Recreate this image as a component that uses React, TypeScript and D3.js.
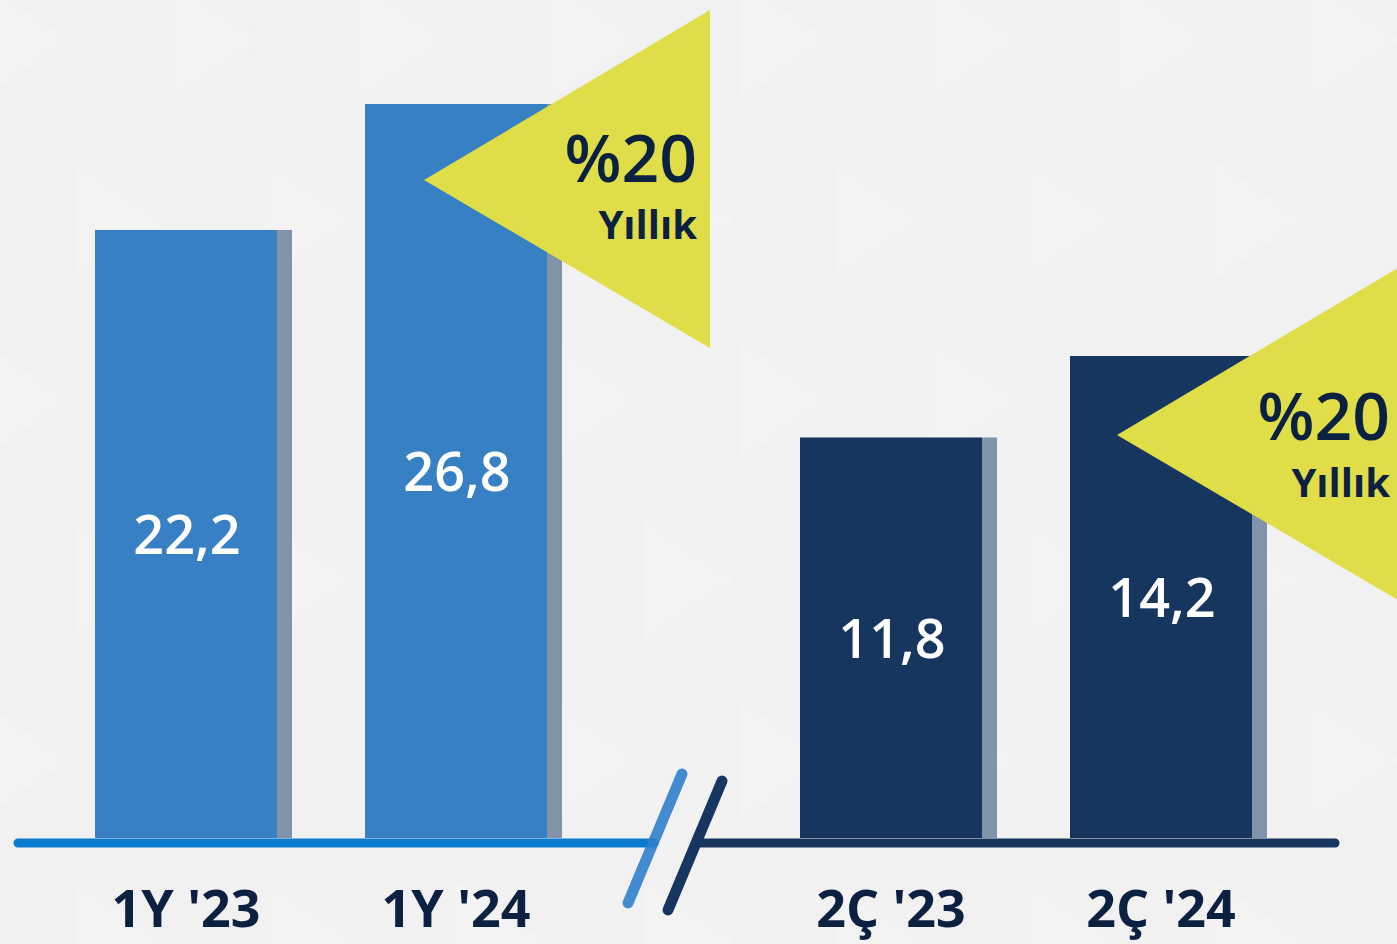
import React from "react";
import * as d3 from "d3";

const leftCategories = ["1Y '23", "1Y '24"];
const leftValues = [22.2, 26.8];
const leftLabels = ["22,2", "26,8"];
const rightCategories = ["2Ç '23", "2Ç '24"];
const rightValues = [11.8, 14.2];
const rightLabels = ["11,8", "14,2"];
const growthLabels = ["%20", "%20"];
const growthSub = "Yıllık";

const W = 1397;
const H = 944;
const BASE = 838;
const FONT = "'Open Sans', 'Noto Sans', sans-serif";
const NAVY_TEXT = "#0c2142";

export default function App() {
  const xLeft = d3.scaleBand().domain(leftCategories).range([95, 547]).paddingInner(88 / 270).paddingOuter(0);
  const xRight = d3.scaleBand().domain(rightCategories).range([800, 1252]).paddingInner(88 / 270).paddingOuter(0);
  const yLeft = d3.scaleLinear().domain([0, 26.8]).range([BASE, 104]);
  const yRight = d3.scaleLinear().domain([0, 14.2]).range([BASE, 356]);

  const panels = [
    { cats: leftCategories, vals: leftValues, labels: leftLabels, x: xLeft, y: yLeft, color: "#3880c4" },
    { cats: rightCategories, vals: rightValues, labels: rightLabels, x: xRight, y: yRight, color: "#17365f" },
  ];

  const tri = (px: number, py: number) => {
    const p = d3.path();
    p.moveTo(px, py);
    p.lineTo(px + 286, py - 170);
    p.lineTo(px + 286, py + 168);
    p.closePath();
    return p.toString();
  };

  const bgTris: JSX.Element[] = [];
  for (let i = 0; i < 8; i++) {
    for (let j = 0; j < 6; j++) {
      const cx = i * 190 - 20 + (j % 2) * 95;
      const cy = j * 180 - 20;
      bgTris.push(
        <path key={`${i}-${j}`} d={`M${cx},${cy} L${cx + 90},${cy + 60} L${cx},${cy + 120} Z`} fill="#f5f5f5" opacity={0.5} />
      );
    }
  }

  return (
    <svg width={W} height={H} style={{ position: "absolute", left: 0, top: 0 }} fontFamily={FONT}>
      <rect x={0} y={0} width={W} height={H} fill="#f1f1f1" />
      {bgTris}
      {panels.map((pn, pi) => (
        <g key={pi}>
          {pn.cats.map((c, i) => {
            const x0 = pn.x(c)!;
            const bw = pn.x.bandwidth();
            const yt = pn.y(pn.vals[i]);
            return (
              <g key={c}>
                <rect x={x0 + bw} y={yt} width={15} height={BASE - yt} fill="#8193a8" />
                <rect x={x0} y={yt} width={bw} height={BASE - yt} fill={pn.color} />
              </g>
            );
          })}
        </g>
      ))}
      <line x1={18} x2={654} y1={843} y2={843} stroke="#0a7bd0" strokeWidth={9} strokeLinecap="round" />
      <line x1={700} x2={1335} y1={843} y2={843} stroke="#17365f" strokeWidth={9} strokeLinecap="round" />
      <line x1={682} y1={774} x2={628} y2={903} stroke="#2f7fcc" strokeOpacity={0.9} strokeWidth={11} strokeLinecap="round" />
      <line x1={722} y1={781} x2={668} y2={910} stroke="#17365f" strokeWidth={11} strokeLinecap="round" />
      {panels.map((pn, pi) => (
        <g key={`l${pi}`}>
          {pn.cats.map((c, i) => {
            const x0 = pn.x(c)!;
            const bw = pn.x.bandwidth();
            const yt = pn.y(pn.vals[i]);
            return (
              <text key={c} x={x0 + bw / 2 + 1} y={(yt + BASE) / 2} dy="0.37em" textAnchor="middle" fill="#ffffff" fontSize={54} fontWeight={600}>
                {pn.labels[i]}
              </text>
            );
          })}
          {pn.cats.map((c) => {
            const x0 = pn.x(c)!;
            const bw = pn.x.bandwidth();
            return (
              <text key={`c${c}`} x={x0 + bw / 2} y={927} textAnchor="middle" fill={NAVY_TEXT} fontSize={52} fontWeight={700}>
                {c}
              </text>
            );
          })}
        </g>
      ))}
      {[
        { px: 424, py: 180, tx: 697, ty: 182 },
        { px: 1117, py: 435, tx: 1390, ty: 440 },
      ].map((t, i) => (
        <g key={`t${i}`}>
          <path d={tri(t.px, t.py)} fill="#dfdd48" />
          <text x={t.tx} y={t.ty} textAnchor="end" fill={NAVY_TEXT} fontSize={66} fontWeight={600}>
            {growthLabels[i]}
          </text>
          <text x={t.tx} y={t.ty + 57} textAnchor="end" fill={NAVY_TEXT} fontSize={40} fontWeight={700}>
            {growthSub}
          </text>
        </g>
      ))}
    </svg>
  );
}
